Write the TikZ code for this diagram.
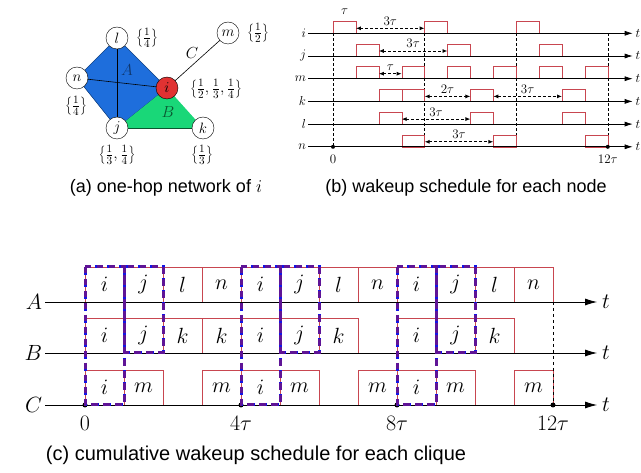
\RequirePackage{fix-cm}
\documentclass[tikz,border=0pt]{standalone}
\usepackage{fontspec}
\newfontfamily\capsans{Liberation Sans}
\usepackage{tikz}
\usetikzlibrary{arrows.meta}
\definecolor{wakered}{RGB}{200,70,80}
\definecolor{cliqueA}{RGB}{30,110,220}
\definecolor{cliqueB}{RGB}{25,215,120}
\definecolor{nodei}{RGB}{225,50,50}
\definecolor{hopblue}{RGB}{20,20,230}
\definecolor{hoppurple}{RGB}{95,20,150}

\begin{document}
\begin{tikzpicture}[x=1pt, y=-1pt,
    every node/.style={inner sep=0pt, outer sep=0pt},
    vert/.style={circle, draw, fill=white, minimum size=22pt, font=\fontsize{15}{17}\selectfont},
    weight/.style={font=\fontsize{16}{18}\selectfont},
    bfont/.style={font=\fontsize{13}{15}\selectfont},
    cfont/.style={font=\fontsize{22}{26}\selectfont},
    bslot/.style={draw=wakered, anchor=south west, minimum width=22.9pt, minimum height=12pt},
    cslot/.style={draw=wakered, anchor=south west, minimum width=39pt, minimum height=35pt, cfont},
    meas/.style={densely dashed, line width=0.9pt, {Latex[length=5pt,width=4pt]}-{Latex[length=5pt,width=4pt]}},
    hopout/.style={line width=3pt, draw=hoppurple, dash pattern=on 6.5pt off 5.5pt,
      preaction={draw=hopblue, line width=3pt, dash pattern=on 8pt off 4pt}}]
  \useasboundingbox (0,0) rectangle (641,473);

  % (a) one-hop network
  \coordinate (pl) at (117,38);
  \coordinate (pn) at (77,78);
  \coordinate (pi) at (167,88);
  \coordinate (pj) at (117,128);
  \coordinate (pk) at (203,128);
  \coordinate (pm) at (228,33);
  \filldraw[fill=cliqueA, draw=cliqueA!60!black, line width=0.6pt]
    (pl) -- (pi) -- (pj) -- (pn) -- cycle;
  \fill[cliqueB] (pi) -- (pk) -- (pj) -- cycle;
  \draw[line width=0.6pt] (pl) -- (pj);
  \draw[line width=0.6pt] (pn) -- (pi);
  \draw[line width=0.6pt, cliqueB!40!black] (pj) -- (pk);
  \draw[line width=0.6pt] (pi) -- (pm);
  \node[vert] (l) at (pl) {$l$};
  \node[vert] (n) at (pn) {$n$};
  \node[vert, fill=nodei] (i) at (pi) {$i$};
  \node[vert] (j) at (pj) {$j$};
  \node[vert] (k) at (pk) {$k$};
  \node[vert] (m) at (pm) {$m$};
  \node[weight, text=cliqueA!50!black] (labA) at (127,70) {$A$};
  \node[weight, text=cliqueB!40!black] (labB) at (168,112) {$B$};
  \node[weight] (labC) at (192,53) {$C$};
  \node[weight] (wl) at (147,38) {$\left\{\frac{1}{4}\right\}$};
  \node[weight] (wm) at (258,33) {$\left\{\frac{1}{2}\right\}$};
  \node[weight] (wi) at (216,89) {$\left\{\frac{1}{2},\frac{1}{3},\frac{1}{4}\right\}$};
  \node[weight] (wn) at (76,106) {$\left\{\frac{1}{4}\right\}$};
  \node[weight] (wj) at (117,155) {$\left\{\frac{1}{3},\frac{1}{4}\right\}$};
  \node[weight] (wk) at (202,155) {$\left\{\frac{1}{3}\right\}$};
  \node[font=\capsans\fontsize{18}{20}\selectfont] (capa) at (166,188) {(a) one-hop network of $i$};

  % (b) wakeup schedule for each node
  \foreach \s in {0,4,8,12}
    \draw[densely dashed, line width=0.6pt] ({333+22.9*\s},33.3) -- ({333+22.9*\s},146.8);
  \foreach \nm/\r/\slots in {i/0/{0,4,8}, j/1/{1,5,9}, m/2/{1,3,5,7,9,11},
                             k/3/{2,3,6,10}, l/4/{2,6,10}, n/5/{3,7,11}} {
    \node[bfont, anchor=east] (b\nm) at (306,{33.3+22.7*\r}) {$\nm$};
    \node[bfont] (bt\nm) at (638,{33.3+22.7*\r}) {$t$};
    \foreach \s in \slots
      \node[bslot] (b\nm\s) at ({333+22.9*\s},{33.3+22.7*\r}) {};
    \draw[line width=0.7pt, -{Latex[length=8pt,width=5pt]}, shorten <=2pt, shorten >=3pt]
      (b\nm) -- (bt\nm);
  }
  \foreach \r/\a/\b/\lab in {0/1/4/3\tau, 1/2/5/3\tau, 2/2/3/\tau, 3/4/6/2\tau,
                             3/7/10/3\tau, 4/3/6/3\tau, 5/4/7/3\tau}
    \draw[meas] ({333+22.9*\a},{28.3+22.7*\r}) --
      node[bfont, above=3pt] {$\lab$} ({333+22.9*\b},{28.3+22.7*\r});
  \node[bfont] (btau) at (344.5,12) {$\tau$};
  \fill (333,146.8) circle (2pt);
  \fill (607.8,146.8) circle (2pt);
  \node[bfont] (b0) at (333,159) {$0$};
  \node[bfont] (b12) at (607.8,159) {$12\tau$};
  \node[font=\capsans\fontsize{18}{20}\selectfont] (capb) at (466,188) {(b) wakeup schedule for each node};

  % (c) cumulative wakeup schedule for each clique
  \foreach \rw/\y/\slots in {A/302/{0/i,1/j,2/l,3/n,4/i,5/j,6/l,7/n,8/i,9/j,10/l,11/n},
                             B/353/{0/i,1/j,2/k,3/k,4/i,5/j,6/k,8/i,9/j,10/k},
                             C/405/{0/i,1/m,3/m,4/i,5/m,7/m,8/i,9/m,11/m}} {
    \node[cfont, anchor=east] (c\rw) at (42,\y) {$\rw$};
    \node[cfont] (ct\rw) at (606,\y) {$t$};
    \foreach \s/\c in \slots
      \node[cslot] (c\rw\s) at ({85+39*\s},\y) {$\c$};
    \draw[line width=0.8pt, -{Latex[length=12pt,width=7pt]}, shorten <=3pt, shorten >=5pt]
      (c\rw) -- (ct\rw);
  }
  \draw[dashed, line width=0.6pt] (553,302) -- (553,405);
  \foreach \s/\lab in {0/0, 4/4\tau, 8/8\tau, 12/12\tau} {
    \fill ({85+39*\s},405) circle (2.5pt);
    \node[cfont] (ctick\s) at ({85+39*\s},423) {$\lab$};
  }
  \foreach \s in {0,4,8} {
    \draw[hopout] ({85+39*\s},267) rectangle ({85+39*(\s+1)},405);
    \draw[hopout] ({85+39*(\s+1)},267) rectangle ({85+39*(\s+2)},353);
  }
  \node[font=\capsans\fontsize{20}{22}\selectfont] (capc) at (256,455) {(c) cumulative wakeup schedule for each clique};
\end{tikzpicture}
\end{document}
